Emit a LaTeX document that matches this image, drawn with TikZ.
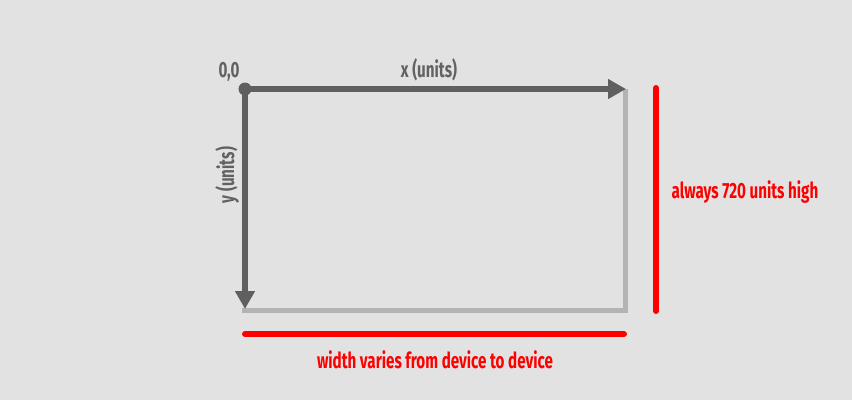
\documentclass[tikz,border=0pt]{standalone}
\usepackage{fontspec}
\setmainfont[FakeStretch=0.69]{Fira Sans}
\usetikzlibrary{arrows.meta}
\definecolor{bg}{HTML}{E2E2E2}
\definecolor{axis}{HTML}{5F5F5F}
\definecolor{frame}{HTML}{B3B3B3}
\definecolor{lbl}{HTML}{626262}
\definecolor{redl}{HTML}{FF0000}
\tikzset{
  axisline/.style={draw=axis, line width=6pt, -{Triangle[length=18pt,width=19pt]}},
  frameline/.style={draw=frame, line width=5pt},
  redline/.style={draw=redl, line width=6pt, line cap=round},
  greylbl/.style={text=lbl, font=\fontsize{22}{24}\selectfont\bfseries, inner sep=0pt},
  redlbl/.style={text=redl, font=\fontsize{22}{24}\selectfont\bfseries, inner sep=0pt},
}
\begin{document}
\begin{tikzpicture}[x=1pt,y=-1pt]
\fill[bg] (0,0) rectangle (852,400);
\useasboundingbox (0,0) rectangle (852,400);
\coordinate (o) at (245,89);
\coordinate (xe) at (626,89);
\coordinate (ye) at (245,309);
\coordinate (tr) at (625,89);
\coordinate (br) at (625,310);
\coordinate (bl) at (242,310);
\coordinate (rt) at (656,88);
\coordinate (rb) at (656,311);
\coordinate (hl) at (245,334);
\coordinate (hr) at (624,334);
\draw[frameline] (tr) -- (br) -- (bl);
\draw[axisline] (o) -- (xe);
\draw[axisline] (o) -- (ye);
\fill[axis] (o) circle (6.5);
\draw[redline] (rt) -- (rb);
\draw[redline] (hl) -- (hr);
\node[greylbl] (origin) at (229,72) {0,0};
\node[greylbl] (xl) at (429,70) {x (units)};
\node[greylbl, rotate=90] (yl) at (227,175) {y (units)};
\node[redlbl] (hlbl) at (745,192) {always 720 units high};
\node[redlbl] (wlbl) at (435,360) {width varies from device to device};
\end{tikzpicture}
\end{document}
